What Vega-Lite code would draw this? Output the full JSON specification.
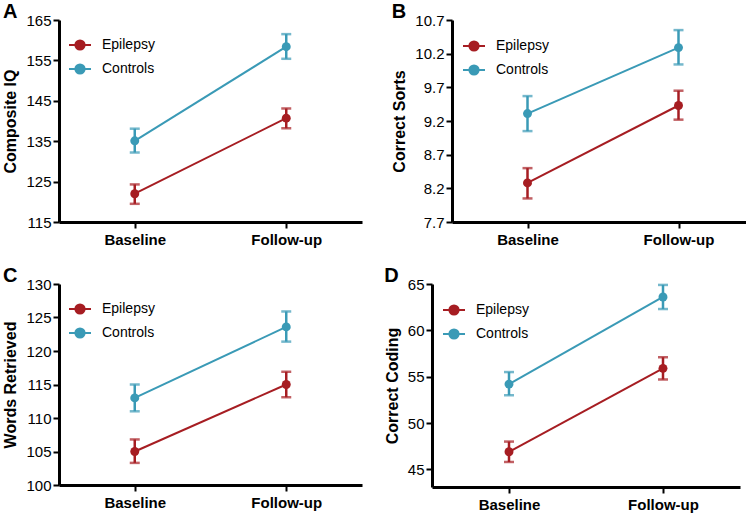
{
  "$schema": "https://vega.github.io/schema/vega-lite/v6.json",
  "padding": {"left": 2, "top": 2, "right": 2, "bottom": 2},
  "background": "white",
  "spacing": 19,
  "datasets": {
    "A": [
      {"time": "Baseline", "group": "Epilepsy", "mean": 122.0, "lo": 119.5, "hi": 124.3},
      {"time": "Follow-up", "group": "Epilepsy", "mean": 140.7, "lo": 138.2, "hi": 143.1},
      {"time": "Baseline", "group": "Controls", "mean": 135.1, "lo": 132.2, "hi": 138.1},
      {"time": "Follow-up", "group": "Controls", "mean": 158.4, "lo": 155.4, "hi": 161.5}
    ],
    "B": [
      {"time": "Baseline", "group": "Epilepsy", "mean": 8.28, "lo": 8.05, "hi": 8.5},
      {"time": "Follow-up", "group": "Epilepsy", "mean": 9.43, "lo": 9.22, "hi": 9.65},
      {"time": "Baseline", "group": "Controls", "mean": 9.31, "lo": 9.05, "hi": 9.57},
      {"time": "Follow-up", "group": "Controls", "mean": 10.29, "lo": 10.04, "hi": 10.55}
    ],
    "C": [
      {"time": "Baseline", "group": "Epilepsy", "mean": 105.0, "lo": 103.3, "hi": 106.8},
      {"time": "Follow-up", "group": "Epilepsy", "mean": 115.0, "lo": 113.1, "hi": 116.9},
      {"time": "Baseline", "group": "Controls", "mean": 113.0, "lo": 111.0, "hi": 115.0},
      {"time": "Follow-up", "group": "Controls", "mean": 123.6, "lo": 121.4, "hi": 125.9}
    ],
    "D": [
      {"time": "Baseline", "group": "Epilepsy", "mean": 46.9, "lo": 45.8, "hi": 48.0},
      {"time": "Follow-up", "group": "Epilepsy", "mean": 55.9, "lo": 54.7, "hi": 57.1},
      {"time": "Baseline", "group": "Controls", "mean": 54.2, "lo": 53.0, "hi": 55.5},
      {"time": "Follow-up", "group": "Controls", "mean": 63.6, "lo": 62.3, "hi": 64.9}
    ]
  },
  "resolve": {"scale": {"y": "independent"}, "legend": {"color": "independent"}},
  "vconcat": [
    {
      "resolve": {"scale": {"y": "independent"}, "legend": {"color": "independent"}},
      "spacing": 29,
      "hconcat": [
        {
          "title": {"text": "A"},
          "width": 303, "height": 202,
          "data": {"name": "A"},
          "encoding": {
            "x": {"field": "time", "type": "ordinal", "sort": ["Baseline", "Follow-up"], "scale": {"type": "point", "padding": 0.5}},
            "color": {"field": "group", "type": "nominal", "scale": {"domain": ["Epilepsy", "Controls"], "range": ["#a61d22", "#3a9ab6"]},
              "legend": {"orient": "none", "legendX": 9, "legendY": 13}}
          },
          "layer": [
            {"mark": {"type": "line", "strokeWidth": 2}, "encoding": {"y": {"field": "mean", "type": "quantitative", "title": "Composite IQ", "scale": {"domain": [115, 165], "nice": false, "zero": false}, "axis": {"values": [115, 125, 135, 145, 155, 165], "tickCount": 20}}}},
            {"mark": {"type": "errorbar", "ticks": {"size": 10, "thickness": 2.5}, "thickness": 2.5}, "encoding": {"y": {"field": "lo", "type": "quantitative", "title": "Composite IQ"}, "y2": {"field": "hi"}}},
            {"mark": {"type": "point", "filled": true, "opacity": 1, "size": 80, "shape": "circle"}, "encoding": {"y": {"field": "mean", "type": "quantitative", "title": "Composite IQ"}}}
          ]
        },
        {
          "title": {"text": "B"},
          "width": 302, "height": 202,
          "data": {"name": "B"},
          "encoding": {
            "x": {"field": "time", "type": "ordinal", "sort": ["Baseline", "Follow-up"], "scale": {"type": "point", "padding": 0.5}},
            "color": {"field": "group", "type": "nominal", "scale": {"domain": ["Epilepsy", "Controls"], "range": ["#a61d22", "#3a9ab6"]},
              "legend": {"orient": "none", "legendX": 10, "legendY": 14}}
          },
          "layer": [
            {"mark": {"type": "line", "strokeWidth": 2}, "encoding": {"y": {"field": "mean", "type": "quantitative", "title": "Correct Sorts", "scale": {"domain": [7.7, 10.7], "nice": false, "zero": false}, "axis": {"values": [7.7, 8.2, 8.7, 9.2, 9.7, 10.2, 10.7], "format": ".1f", "tickCount": 20}}}},
            {"mark": {"type": "errorbar", "ticks": {"size": 10, "thickness": 2.5}, "thickness": 2.5}, "encoding": {"y": {"field": "lo", "type": "quantitative", "title": "Correct Sorts"}, "y2": {"field": "hi"}}},
            {"mark": {"type": "point", "filled": true, "opacity": 1, "size": 80, "shape": "circle"}, "encoding": {"y": {"field": "mean", "type": "quantitative", "title": "Correct Sorts"}}}
          ]
        }
      ]
    },
    {
      "resolve": {"scale": {"y": "independent"}, "legend": {"color": "independent"}},
      "spacing": 22,
      "hconcat": [
        {
          "title": {"text": "C"},
          "width": 303, "height": 201,
          "data": {"name": "C"},
          "encoding": {
            "x": {"field": "time", "type": "ordinal", "sort": ["Baseline", "Follow-up"], "scale": {"type": "point", "padding": 0.5}},
            "color": {"field": "group", "type": "nominal", "scale": {"domain": ["Epilepsy", "Controls"], "range": ["#a61d22", "#3a9ab6"]},
              "legend": {"orient": "none", "legendX": 9, "legendY": 13}}
          },
          "layer": [
            {"mark": {"type": "line", "strokeWidth": 2}, "encoding": {"y": {"field": "mean", "type": "quantitative", "title": "Words Retrieved", "scale": {"domain": [100, 130], "nice": false, "zero": false}, "axis": {"values": [100, 105, 110, 115, 120, 125, 130], "tickCount": 20}}}},
            {"mark": {"type": "errorbar", "ticks": {"size": 10, "thickness": 2.5}, "thickness": 2.5}, "encoding": {"y": {"field": "lo", "type": "quantitative", "title": "Words Retrieved"}, "y2": {"field": "hi"}}},
            {"mark": {"type": "point", "filled": true, "opacity": 1, "size": 80, "shape": "circle"}, "encoding": {"y": {"field": "mean", "type": "quantitative", "title": "Words Retrieved"}}}
          ]
        },
        {
          "title": {"text": "D"},
          "width": 308, "height": 203,
          "data": {"name": "D"},
          "encoding": {
            "x": {"field": "time", "type": "ordinal", "sort": ["Baseline", "Follow-up"], "scale": {"type": "point", "padding": 0.5}},
            "color": {"field": "group", "type": "nominal", "scale": {"domain": ["Epilepsy", "Controls"], "range": ["#a61d22", "#3a9ab6"]},
              "legend": {"orient": "none", "legendX": 10, "legendY": 14}}
          },
          "layer": [
            {"mark": {"type": "line", "strokeWidth": 2}, "encoding": {"y": {"field": "mean", "type": "quantitative", "title": "Correct Coding", "scale": {"domain": [43.1, 65], "nice": false, "zero": false}, "axis": {"values": [45, 50, 55, 60, 65], "tickCount": 20}}}},
            {"mark": {"type": "errorbar", "ticks": {"size": 10, "thickness": 2.5}, "thickness": 2.5}, "encoding": {"y": {"field": "lo", "type": "quantitative", "title": "Correct Coding"}, "y2": {"field": "hi"}}},
            {"mark": {"type": "point", "filled": true, "opacity": 1, "size": 80, "shape": "circle"}, "encoding": {"y": {"field": "mean", "type": "quantitative", "title": "Correct Coding"}}}
          ]
        }
      ]
    }
  ],
  "config": {
    "view": {"stroke": null},
    "font": "Liberation Sans",
    "axis": {"domainColor": "black", "domainWidth": 3, "tickColor": "black", "tickWidth": 2, "tickSize": 6, "labelColor": "black", "labelFont": "Liberation Sans", "titleFont": "Liberation Sans", "titleColor": "black", "grid": false, "labelOverlap": false},
    "axisY": {"labelFontSize": 15, "titleFontSize": 16, "titleFontWeight": "bold", "labelPadding": 2, "titlePadding": 7, "tickCount": 20},
    "axisX": {"labelFontSize": 15, "labelFontWeight": "bold", "labelPadding": 4, "title": null, "labelAngle": 0},
    "legend": {"title": null, "symbolType": "M-1,0H1M0.42,0A0.42,0.42,0,1,1,-0.42,0A0.42,0.42,0,1,1,0.42,0Z", "symbolSize": 484, "symbolStrokeWidth": 2, "labelFontSize": 14, "labelFont": "Liberation Sans", "labelColor": "black", "labelOffset": 10, "rowPadding": 3, "padding": 0,
      "symbolOpacity": 1},
    "title": {"anchor": "start", "frame": "bounds", "fontSize": 20, "fontWeight": "bold", "font": "Liberation Sans", "color": "black", "offset": -9}
  }
}
